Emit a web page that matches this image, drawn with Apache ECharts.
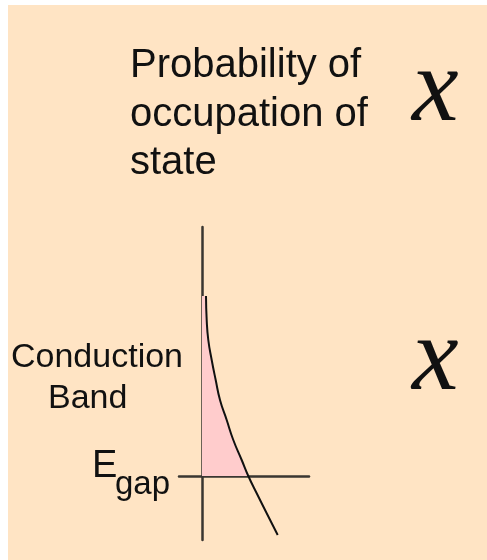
<!DOCTYPE html>
<html>
<head>
<meta charset="utf-8">
<script src="https://cdn.jsdelivr.net/npm/echarts@6/dist/echarts.min.js"></script>
<style>
  html, body { margin: 0; padding: 0; background: #ffffff; }
  #chart { width: 487px; height: 560px; }
</style>
</head>
<body>
<div id="chart"></div>
<script>
// occupation probability (x) vs energy (y), E_gap at y = 0
const curveX = [0.04, 0.047, 0.063, 0.097, 0.137, 0.18, 0.247, 0.313, 0.397, 0.463, 0.547, 0.647, 0.757];
const curveY = [1.80, 1.56, 1.36, 1.16, 0.96, 0.76, 0.56, 0.36, 0.16, 0, -0.173, -0.373, -0.59];
const titleLines = ['Probability of', 'occupation of', 'state'];
const bandLabel = ['Conduction', 'Band'];

const curve = curveX.map((x, i) => [x, curveY[i]]);
// shaded part: between the vertical axis and the curve, above E_gap
const shaded = [[0, curveY[0]]].concat(curve.filter(p => p[1] >= 0));

const sans = "'Liberation Sans', Arial, sans-serif";
const ink = '#111111';
const xFont = 'italic 105px "Liberation Serif", serif';

const chart = echarts.init(document.getElementById('chart'));
chart.setOption({
    backgroundColor: '#ffffff',
    animation: false,
    grid: { left: 179, top: 227, width: 130, height: 313 },
    xAxis: {
        type: 'value', min: -0.23, max: 1.07,
        axisLine: { show: true, onZero: true, lineStyle: { color: '#3a3631', width: 2.5 } },
        axisTick: { show: false }, axisLabel: { show: false }, splitLine: { show: false }
    },
    yAxis: {
        type: 'value', min: -0.64, max: 2.49,
        axisLine: { show: true, onZero: true, lineStyle: { color: '#3a3631', width: 2.5 } },
        axisTick: { show: false }, axisLabel: { show: false }, splitLine: { show: false }
    },
    graphic: [
        { type: 'rect', z: -10, silent: true, shape: { x: 8, y: 5, width: 479, height: 555 }, style: { fill: '#FFE4C4' } },
        { type: 'text', z: 100, style: { x: 130, y: 42, text: titleLines.join('\n'), font: '40px ' + sans, lineHeight: 48.5, fill: ink, verticalAlign: 'top' } },
        { type: 'text', z: 100, style: { x: 412, y: 40, text: 'x', font: xFont, fill: ink, verticalAlign: 'top' } },
        { type: 'text', z: 100, style: { x: 412, y: 309, text: 'x', font: xFont, fill: ink, verticalAlign: 'top' } },
        { type: 'text', z: 100, style: { x: 11, y: 341, text: bandLabel[0], font: '34px ' + sans, fill: ink, verticalAlign: 'top' } },
        { type: 'text', z: 100, style: { x: 48, y: 382, text: bandLabel[1], font: '34px ' + sans, fill: ink, verticalAlign: 'top' } },
        { type: 'text', z: 100, style: { x: 92, y: 448, text: 'E', font: '38px ' + sans, fill: ink, verticalAlign: 'top' } },
        { type: 'text', z: 100, style: { x: 115, y: 468, text: 'gap', font: '33px ' + sans, fill: ink, verticalAlign: 'top' } }
    ],
    series: [
        {
            type: 'line', data: shaded, symbol: 'none', smooth: true, z: 1,
            lineStyle: { width: 0 },
            areaStyle: { color: '#FFCCCC', opacity: 1 }
        },
        {
            type: 'line', data: curve, symbol: 'none', smooth: true, z: 5,
            lineStyle: { color: '#111111', width: 2 }
        }
    ]
});
</script>
</body>
</html>
